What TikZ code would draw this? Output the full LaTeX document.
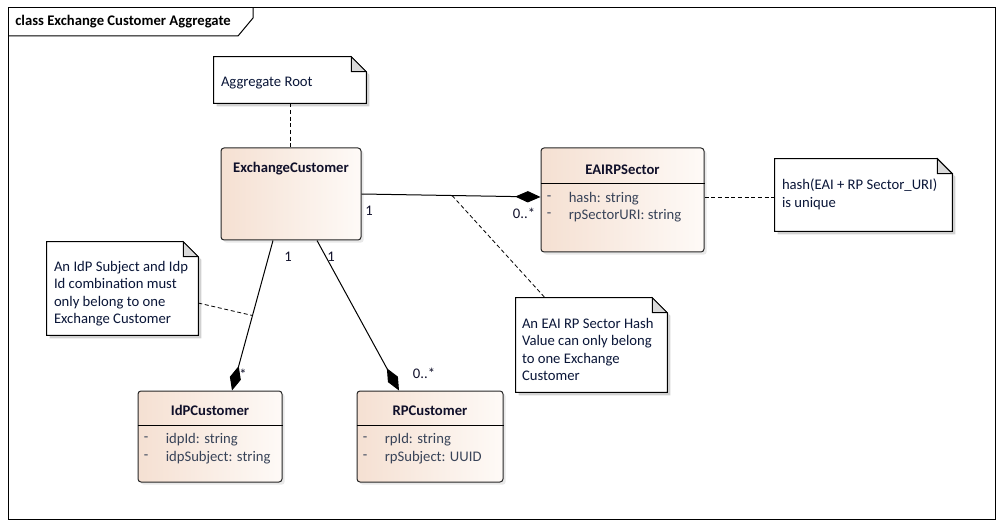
\documentclass[tikz,border=0pt]{standalone}
\usepackage{fontspec}
\setmainfont{Carlito}
\usetikzlibrary{arrows.meta,calc,shadows}

\definecolor{clsleft}{HTML}{F5E0D2}
\definecolor{clsright}{HTML}{FEFAF7}
\definecolor{ttltxt}{HTML}{10102A}
\definecolor{attrtxt}{HTML}{384358}
\definecolor{notetxt}{HTML}{0A1638}
\definecolor{foldgray}{HTML}{D9D9D9}

\tikzset{
  classbox/.style 2 args={draw=black!85, line width=0.75pt, rounded corners=2.25pt,
    left color=clsleft, right color=clsright, inner sep=0pt,
    minimum width=#1*0.75pt, minimum height=#2*0.75pt,
    drop shadow={shadow xshift=2pt, shadow yshift=-2pt, opacity=0.18}},
  notebox/.style 2 args={inner sep=0pt, minimum width=#1*0.75pt, minimum height=#2*0.75pt},
  ctitle/.style={font=\fontsize{11}{13}\selectfont\bfseries, text=ttltxt, inner sep=0pt},
  attr/.style={font=\fontsize{11}{13}\selectfont, text=attrtxt, anchor=west, inner sep=0pt},
  notetext/.style={font=\fontsize{11}{13.2}\selectfont, text=notetxt, anchor=north west,
    align=left, inner sep=0pt},
  mult/.style={font=\fontsize{11}{13}\selectfont, text=ttltxt, inner sep=0pt},
  assoc/.style={line width=0.75pt, -{Diamond[length=19pt, width=8.5pt]}},
  notelink/.style={dashed, dash pattern=on 3pt off 2pt, line width=0.6pt}
}

% note outline with folded corner
\newcommand{\notefold}[1]{%
  \fill[black!18] ($(#1.north west)+(3,3)$) -- ($(#1.north east)+(-12,3)$)
    -- ($(#1.north east)+(3,18)$) -- ($(#1.south east)+(3,3)$)
    -- ($(#1.south west)+(3,3)$) -- cycle;
  \draw[fill=white, line width=0.75pt] (#1.north west) -- ($(#1.north east)+(-15,0)$)
    -- ($(#1.north east)+(0,15)$) |- (#1.south west) -- cycle;
  \draw[fill=foldgray, line width=0.75pt] ($(#1.north east)+(-15,0)$) -- ++(0,15)
    -- ++(15,0) -- cycle;
}

\begin{document}
\begin{tikzpicture}[x=0.75pt, y=-0.75pt]
  \useasboundingbox (0,0) rectangle (1003,527);

  % frame
  \draw[line width=0.75pt] (8,8) rectangle (995,519);
  \draw[line width=0.75pt] (8,36) -- (238,36) -- (253,18) -- (253,8);
  \node[ctitle, text=black, anchor=west] (frm) at (15,22) {class Exchange Customer Aggregate};

  % classes
  \node[classbox={140}{92}] (xc) at (291,194) {};
  \node[classbox={163}{104}] (eai) at (622.5,200) {};
  \node[classbox={144}{91}] (idp) at (210,436.5) {};
  \node[classbox={146}{91}] (rp) at (430,436.5) {};

  \node[ctitle] (xcT) at ($(xc.north)+(0,21)$) {ExchangeCustomer};

  \node[ctitle] (eaiT) at ($(eai.north)+(0,22)$) {EAIRPSector};
  \draw[line width=0.75pt] ($(eai.north west)+(0,36)$) -- ($(eai.north east)+(0,36)$);
  \node[attr] (eaiA) at ($(eai.north west)+(6,51)$) {-};
  \node[attr] (eaiB) at ($(eai.north west)+(28,51)$) {hash: string};
  \node[attr] (eaiC) at ($(eai.north west)+(6,68)$) {-};
  \node[attr] (eaiD) at ($(eai.north west)+(28,68)$) {rpSectorURI: string};

  \node[ctitle] (idpT) at ($(idp.north)+(0,20)$) {IdPCustomer};
  \draw[line width=0.75pt] ($(idp.north west)+(0,35)$) -- ($(idp.north east)+(0,35)$);
  \node[attr] (idpA) at ($(idp.north west)+(6,49)$) {-};
  \node[attr] (idpB) at ($(idp.north west)+(28,49)$) {idpId: string};
  \node[attr] (idpC) at ($(idp.north west)+(6,67)$) {-};
  \node[attr] (idpD) at ($(idp.north west)+(28,67)$) {idpSubject: string};

  \node[ctitle] (rpT) at ($(rp.north)+(0,20)$) {RPCustomer};
  \draw[line width=0.75pt] ($(rp.north west)+(0,35)$) -- ($(rp.north east)+(0,35)$);
  \node[attr] (rpA) at ($(rp.north west)+(6,49)$) {-};
  \node[attr] (rpB) at ($(rp.north west)+(28,49)$) {rpId: string};
  \node[attr] (rpC) at ($(rp.north west)+(6,67)$) {-};
  \node[attr] (rpD) at ($(rp.north west)+(28,67)$) {rpSubject: UUID};

  % notes
  \node[notebox={152}{46}] (root) at (290,80) {};
  \notefold{root}
  \node[notetext] (rootT) at ($(root.north west)+(7,20)$) {Aggregate Root};

  \node[notebox={177}{72}] (hash) at (863.5,195) {};
  \notefold{hash}
  \node[notetext] (hashT) at ($(hash.north west)+(7,20)$) {hash(EAI + RP Sector\_URI)\\is unique};

  \node[notebox={151}{93}] (idpn) at (122.5,288.5) {};
  \notefold{idpn}
  \node[notetext] (idpnT) at ($(idpn.north west)+(7,19)$)
    {An IdP Subject and Idp\\Id combination must\\only belong to one\\Exchange Customer};

  \node[notebox={151}{94}] (eain) at (591.5,345) {};
  \notefold{eain}
  \node[notetext] (eainT) at ($(eain.north west)+(6,20)$)
    {An EAI RP Sector Hash\\Value can only belong\\to one Exchange\\Customer};

  % associations
  \draw[assoc] (xc.east) -- coordinate[pos=0.506] (m1) ([yshift=2.25pt]eai.west);
  \draw[assoc] ([xshift=-13.5pt]xc.south) -- coordinate[pos=0.5] (m2) ([xshift=16.5pt]idp.north);
  \draw[assoc] ([xshift=19.5pt]xc.south) -- ([xshift=-23.25pt]rp.north);

  \node[mult] (l1) at (369,211) {1};
  \node[mult] (l2) at (524,213) {0..*};
  \node[mult] (l3) at (288,257) {1};
  \node[mult] (l4) at (243,374) {*};
  \node[mult] (l5) at (331,257) {1};
  \node[mult] (l6) at (424,373) {0..*};

  % note links
  \draw[notelink] (root.south) -- (root.south |- xc.north);
  \draw[notelink] ([yshift=2.25pt]eai.east) -- ([yshift=-1.5pt]hash.west);
  \draw[notelink] (m1) -- ([xshift=-34.9pt]eain.north);
  \draw[notelink] ([yshift=-10.9pt]idpn.east) -- (m2);
\end{tikzpicture}
\end{document}
